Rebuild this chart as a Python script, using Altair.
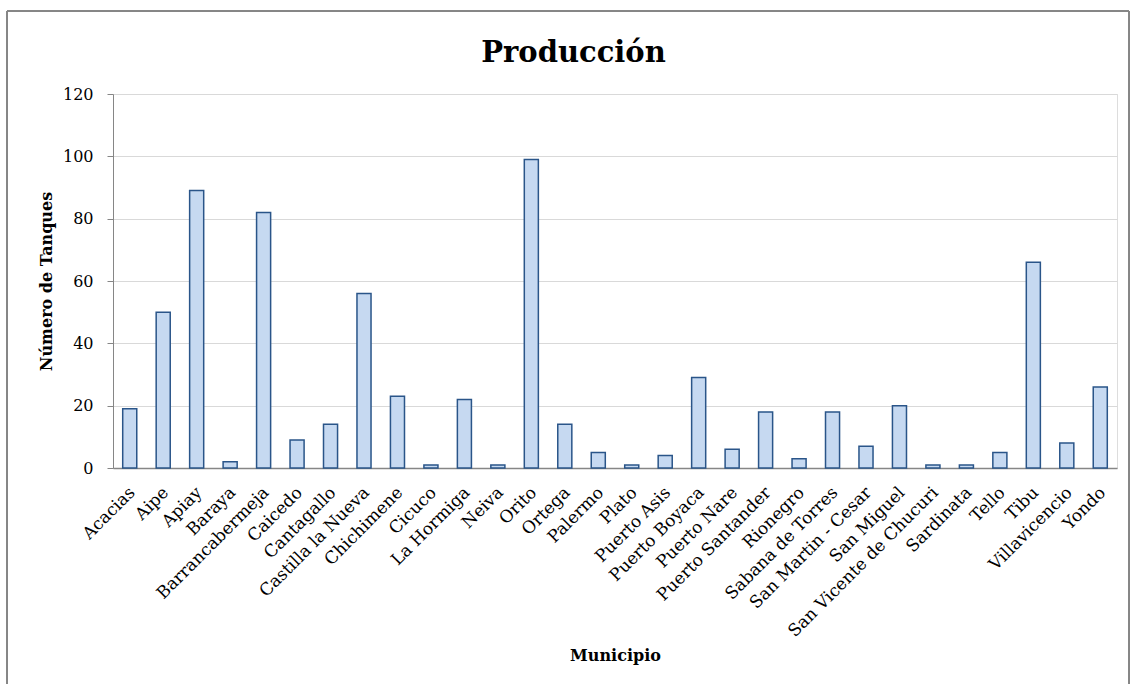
import altair as alt
import pandas as pd

municipios = ["Acacias", "Aipe", "Apiay", "Baraya", "Barrancabermeja", "Caicedo", "Cantagallo",
              "Castilla la Nueva", "Chichimene", "Cicuco", "La Hormiga", "Neiva", "Orito", "Ortega",
              "Palermo", "Plato", "Puerto Asis", "Puerto Boyaca", "Puerto Nare", "Puerto Santander",
              "Rionegro", "Sabana de Torres", "San Martin - Cesar", "San Miguel",
              "San Vicente de Chucuri", "Sardinata", "Tello", "Tibu", "Villavicencio", "Yondo"]
tanques = [19, 50, 89, 2, 82, 9, 14, 56, 23, 1, 22, 1, 99, 14, 5, 1, 4, 29, 6, 18, 3, 18, 7, 20,
           1, 1, 5, 66, 8, 26]
y_ticks = [0, 20, 40, 60, 80, 100, 120]
titulo = "Producción"

df = pd.DataFrame({"Municipio": municipios, "Tanques": tanques})

FONT = "DejaVu Serif"
W, H = 1004, 374

bars = alt.Chart(df).mark_bar(
    fill="#c6d9f1", stroke="#2a5589", strokeWidth=1.5
).encode(
    x=alt.X("Municipio:N", sort=municipios,
            scale=alt.Scale(paddingInner=0.58, paddingOuter=0.29),
            axis=alt.Axis(title="Municipio", labelAngle=-45, ticks=False,
                          labelFont=FONT, labelFontSize=17, labelColor="#000000",
                          labelPadding=16, labelOffset=-3, labelLimit=400,
                          domainColor="#868686", domainWidth=1.5,
                          titleFont=FONT, titleFontSize=16, titleFontWeight="bold",
                          titleColor="#000000", titleY=187, titleBaseline="middle")),
    y=alt.Y("Tanques:Q", scale=alt.Scale(domain=[0, 120]),
            axis=alt.Axis(title="Número de Tanques", values=y_ticks, tickSize=6,
                          tickColor="#868686", domainColor="#868686",
                          labelFont=FONT, labelFontSize=16, labelColor="#000000",
                          labelPadding=14, gridColor="#d9d9d9",
                          titleFont=FONT, titleFontSize=16, titleFontWeight="bold",
                          titleColor="#000000", titlePadding=8)),
)

border = alt.Chart(df).mark_rect(
    fill=None, stroke="#868686", strokeWidth=1
).encode(
    x=alt.value(-106), x2=alt.value(1016), y=alt.value(-83), y2=alt.value(600)
)

title = alt.Chart(pd.DataFrame({"t": [titulo]})).mark_text(
    font=FONT, fontSize=29, fontWeight="bold", color="#000000",
    align="center", baseline="alphabetic"
).encode(text="t:N", x=alt.value(460.5), y=alt.value(-32))

chart = alt.layer(bars, border, title).properties(
    width=W, height=H,
    autosize=alt.AutoSizeParams(type="none"),
    padding={"left": 113, "top": 94, "right": 13, "bottom": 216},
).configure_view(stroke=None).configure(background="#ffffff")

chart.save("out.html", embed_options={"renderer": "svg", "actions": False})
